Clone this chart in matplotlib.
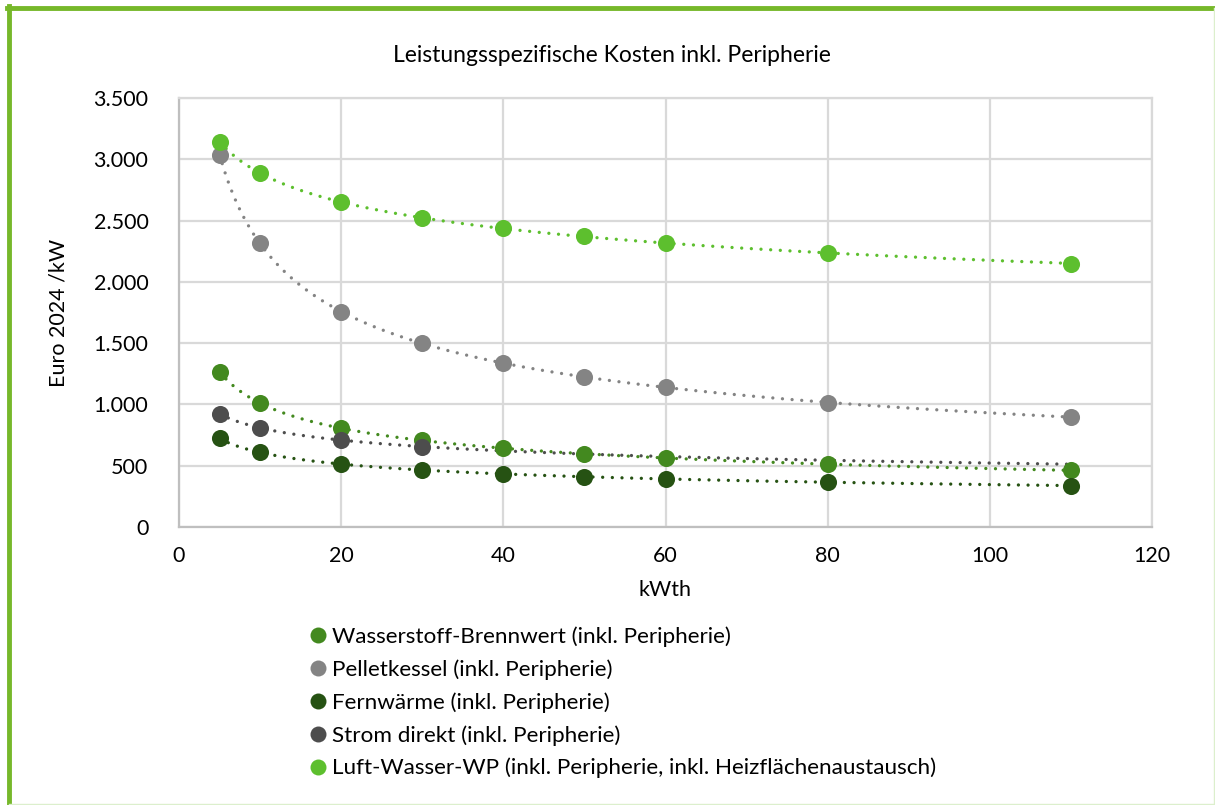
import numpy as np
import matplotlib
matplotlib.use("Agg")
import matplotlib.pyplot as plt
from matplotlib.lines import Line2D
from matplotlib.ticker import FuncFormatter

plt.rcParams["font.family"] = ["Lato", "DejaVu Sans"]
plt.rcParams["figure.dpi"] = 100

# data (kWth -> Euro 2024 / kW)
kw = [5, 10, 20, 30, 40, 50, 60, 80, 110]
kw_strom = [5, 10, 20, 30]

wasserstoff = [1267, 1009, 805, 710, 642, 596, 565, 511, 462]
pellet = [3035, 2317, 1754, 1501, 1338, 1224, 1142, 1012, 897]
fernwaerme = [723, 609, 511, 465, 430, 410, 394, 367, 337]
strom = [922, 810, 710, 655]
luft = [3141, 2888, 2651, 2521, 2439, 2374, 2317, 2235, 2146]

names = [
    "Wasserstoff-Brennwert (inkl. Peripherie)",
    "Pelletkessel (inkl. Peripherie)",
    "Fernwärme (inkl. Peripherie)",
    "Strom direkt (inkl. Peripherie)",
    "Luft-Wasser-WP (inkl. Peripherie, inkl. Heizflächenaustausch)",
]
colors = ["#43891f", "#848484", "#265213", "#4d4d4d", "#5dbf2e"]
xs_list = [kw, kw, kw, kw_strom, kw]
ys_list = [wasserstoff, pellet, fernwaerme, strom, luft]


def power_trend(x, y, x_end):
    # Excel-style power trendline: y = a * x^b, fitted in log-log space
    b, ln_a = np.polyfit(np.log(x), np.log(y), 1)
    xt = np.linspace(min(x), x_end, 300)
    return xt, np.exp(ln_a) * xt ** b


fig = plt.figure(figsize=(12.15, 8.05))
ax = fig.add_axes([179 / 1215, 1 - 527 / 805, (1152 - 179) / 1215, (527 - 98) / 805])

for x, y, c in zip(xs_list, ys_list, colors):
    xt, yt = power_trend(x, y, 110)
    ax.plot(xt, yt, color=c, linewidth=2.4, dashes=(0.001, 2.9),
            dash_capstyle="round", zorder=2)
for x, y, c in zip(xs_list, ys_list, colors):
    ax.plot(x, y, "o", color=c, markersize=12.3, markeredgewidth=0, zorder=3)

ax.set_xlim(0, 120)
ax.set_ylim(0, 3500)
ax.set_xticks(np.arange(0, 121, 20))
ax.set_yticks(np.arange(0, 3501, 500))
ax.yaxis.set_major_formatter(FuncFormatter(lambda v, p: f"{int(v):,}".replace(",", ".")))
ax.grid(True, color="#d9d9d9", linewidth=1.6)
ax.set_axisbelow(True)
ax.tick_params(length=0, labelsize=15.5, colors="#000000")
ax.tick_params(axis="y", pad=22)
ax.tick_params(axis="x", pad=14)
for s in ["top", "right"]:
    ax.spines[s].set_color("#d9d9d9")
    ax.spines[s].set_linewidth(1.6)
for s in ["left", "bottom"]:
    ax.spines[s].set_color("#bfbfbf")
    ax.spines[s].set_linewidth(1.6)

ax.set_xlabel("kWth", fontsize=15.5, labelpad=10)
ax.set_ylabel("Euro 2024 /kW", fontsize=15.5, labelpad=18)
fig.text(612 / 1215, 1 - 56 / 805, "Leistungsspezifische Kosten inkl. Peripherie",
         ha="center", va="center", fontsize=16.5)

handles = [Line2D([], [], marker="o", linestyle="none", color=c, markersize=11.5,
                  markeredgewidth=0) for c in colors]
fig.legend(handles, names, loc="upper left", bbox_to_anchor=(298 / 1215, 1 - 617 / 805),
           frameon=False, fontsize=16.2, handletextpad=0.1, handlelength=1.0,
           labelspacing=0.55, borderaxespad=0)

# green frame around the chart
fig.add_artist(Line2D([9 / 1215, 9 / 1215], [0, 1 - 6 / 805], color="#76b82a", linewidth=3.5))
fig.add_artist(Line2D([7 / 1215, 1], [1 - 8 / 805, 1 - 8 / 805], color="#76b82a", linewidth=3.5))
fig.add_artist(Line2D([1213.5 / 1215, 1213.5 / 1215], [0, 1 - 8 / 805], color="#dcefcc", linewidth=1))
fig.add_artist(Line2D([9 / 1215, 1], [0.6 / 805, 0.6 / 805], color="#dcefcc", linewidth=1))

fig.savefig("out.png", dpi=100)
